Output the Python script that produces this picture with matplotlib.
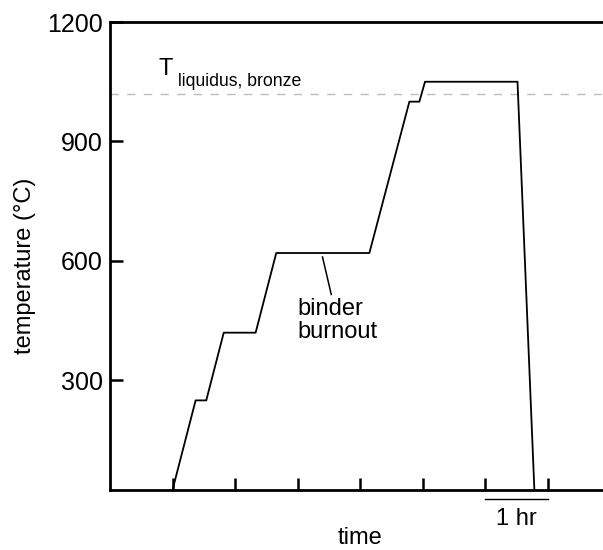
import numpy as np
import matplotlib
matplotlib.use("Agg")
import matplotlib.pyplot as plt
import matplotlib.transforms as mtransforms

plt.rcParams['font.family'] = ['Liberation Sans', 'DejaVu Sans']

# firing schedule (hours, degC)
time_h = [0, 0.37, 0.54, 0.82, 1.33, 1.66, 3.15, 3.79, 3.95, 4.04, 5.52, 5.79]
temp_c = [25, 250, 250, 420, 420, 620, 620, 1000, 1000, 1050, 1050, 25]

t_liquidus = 1020
y_ticks = [300, 600, 900, 1200]
x_ticks = [0, 1, 2, 3, 4, 5, 6]

fs = 17
fig = plt.figure(figsize=(6.03, 5.5), dpi=100)
ax = fig.add_axes([110/603, 60/550, 500/603, 468/550])

# liquidus line
ax.axhline(t_liquidus, color='#bdbdbd', linewidth=1, dashes=(6, 6))
ax.text(-0.225, 1067, 'T', fontsize=fs, ha='left', va='baseline')
ax.text(0.08, 1040, 'liquidus, bronze', fontsize=12.7, ha='left', va='baseline')

# schedule
ax.plot(time_h, temp_c, color='black', linewidth=1.3)

# binder burnout label
ax.plot([2.40, 2.54], [610, 516], color='black', linewidth=1.1)
ax.text(2.0, 508, 'binder\nburnout', fontsize=fs, ha='left', va='top', linespacing=1.1)

ax.set_xlim(-1, 7)
ax.set_ylim(25, 1200)
ax.set_xticks(x_ticks)
ax.set_xticklabels([])
ax.set_yticks(y_ticks)
ax.tick_params(direction='in', length=9, width=1.8, labelsize=18, pad=5)

for side in ['left', 'bottom', 'top']:
    ax.spines[side].set_linewidth(2)
ax.spines['right'].set_visible(False)

# 1 hr scale bar
trans = mtransforms.blended_transform_factory(ax.transData, ax.transAxes)
ax.plot([5, 6], [-0.019, -0.019], color='black', linewidth=1, transform=trans, clip_on=False)
ax.text(5.5, -0.075, '1 hr', fontsize=fs, ha='center', va='baseline', transform=trans)

ax.set_xlabel('time', fontsize=fs, labelpad=22)
ax.set_ylabel('temperature (\u00b0C)', fontsize=fs)
ax.yaxis.set_label_coords(-0.148, 0.48)

fig.savefig('out.png', dpi=100)
